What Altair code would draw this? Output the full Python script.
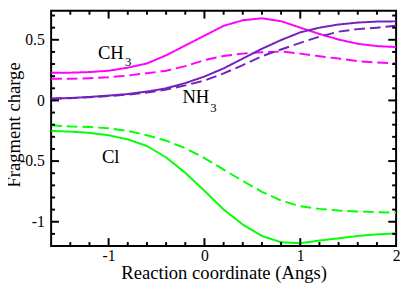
import altair as alt
import pandas as pd

# ---- data ----
xs = [-1.6, -1.4, -1.2, -1.0, -0.8, -0.6, -0.4, -0.2, 0.0, 0.2, 0.4,
      0.6, 0.8, 1.0, 1.2, 1.4, 1.6, 1.8, 2.0]

ch3_solid = [0.229, 0.229, 0.234, 0.245, 0.270, 0.305, 0.372, 0.453, 0.534, 0.615,
             0.661, 0.677, 0.653, 0.600, 0.548, 0.502, 0.467, 0.448, 0.440]
ch3_dashed = [0.178, 0.178, 0.183, 0.191, 0.205, 0.224, 0.245, 0.283, 0.332, 0.367,
              0.386, 0.398, 0.403, 0.386, 0.364, 0.345, 0.324, 0.313, 0.305]
nh3_solid = [0.016, 0.020, 0.029, 0.040, 0.053, 0.073, 0.100, 0.143, 0.197, 0.264,
             0.345, 0.426, 0.498, 0.561, 0.600, 0.626, 0.642, 0.650, 0.652]
nh3_dashed = [0.014, 0.018, 0.026, 0.036, 0.048, 0.066, 0.089, 0.124, 0.164, 0.223,
              0.291, 0.364, 0.420, 0.475, 0.526, 0.567, 0.588, 0.600, 0.615]
cl_solid = [-0.251, -0.257, -0.267, -0.287, -0.321, -0.376, -0.470, -0.597, -0.745, -0.899,
            -1.023, -1.117, -1.169, -1.177, -1.155, -1.137, -1.117, -1.104, -1.096]
cl_dashed = [-0.205, -0.214, -0.219, -0.230, -0.251, -0.287, -0.332, -0.394, -0.475, -0.570,
             -0.664, -0.753, -0.826, -0.872, -0.894, -0.907, -0.915, -0.921, -0.926]

series_names = ["CH3", "NH3", "Cl"]
series_colors = ["#ff00ff", "#7221bc", "#00ff00"]

x_major = [-1, 0, 1]
x_minor = [-1.4, -1.2, -0.8, -0.6, -0.4, -0.2, 0.2, 0.4, 0.6, 0.8, 1.2, 1.4, 1.6, 1.8]
y_major = [-1.0, -0.5, 0.0, 0.5]
y_minor = [-1.1, -0.9, -0.8, -0.7, -0.6, -0.4, -0.3, -0.2, -0.1,
           0.1, 0.2, 0.3, 0.4, 0.6, 0.7]
x_labels = [-1, 0, 1, 2]

ann_main_text = ["CH", "NH", "Cl"]
ann_main_x = [-1.112, -0.23, -1.07]
ann_main_y = [0.345, -0.02, -0.516]
ann_sub_text = ["3", "3"]
ann_sub_x = [-0.83, 0.06]
ann_sub_y = [0.287, -0.092]

# ---- build tables ----
rows = []
for name, sol, das in [("CH3", ch3_solid, ch3_dashed),
                       ("NH3", nh3_solid, nh3_dashed),
                       ("Cl", cl_solid, cl_dashed)]:
    for xv, yv in zip(xs, sol):
        rows.append({"x": xv, "y": yv, "series": name, "style": "solid", "key": name + "s"})
    for xv, yv in zip(xs, das):
        rows.append({"x": xv, "y": yv, "series": name, "style": "dashed", "key": name + "d"})
df = pd.DataFrame(rows)

W, H = 352, 240
FONT = "Liberation Serif"

xscale = alt.Scale(domain=[-1.6, 2.0], nice=False, zero=False)
yscale = alt.Scale(domain=[-1.2, 0.739], nice=False, zero=False)

LBL = "replace(format(datum.value, ''), '\u2212', '-')"

xaxis = alt.Axis(values=x_labels, labelExpr=LBL, labelPadding=2,
                 title="Reaction coordinate (Angs)",
                 titleX=W / 2, titleY=33, titleBaseline="alphabetic", titleAlign="center")
yaxis = alt.Axis(values=y_major, labelExpr=LBL, labelPadding=7,
                 title="Fragment charge",
                 titleX=-32, titleY=116, titleBaseline="alphabetic", titleAlign="center",
                 titleAngle=270)


def X(field="x"):
    return alt.X(f"{field}:Q", scale=xscale, axis=xaxis)


def Y(field="y"):
    return alt.Y(f"{field}:Q", scale=yscale, axis=yaxis)


lines = alt.Chart(df).mark_line(strokeWidth=2, clip=True).encode(
    x=X(), y=Y(),
    color=alt.Color("series:N", scale=alt.Scale(domain=series_names, range=series_colors), legend=None),
    strokeDash=alt.StrokeDash("style:N", scale=alt.Scale(domain=["solid", "dashed"],
                                                          range=[[1, 0], [11, 5]]), legend=None),
    detail="key:N",
)

xt = pd.DataFrame({"x": x_major + x_minor,
                   "len": [8] * len(x_major) + [4] * len(x_minor)})
yt = pd.DataFrame({"y": y_major + y_minor,
                   "len": [8] * len(y_major) + [4] * len(y_minor)})

tick_layers = []
for L in (8, 4):
    xd = xt[xt["len"] == L]
    yd = yt[yt["len"] == L]
    tick_layers.append(alt.Chart(xd).mark_rule(color="black", strokeWidth=2).encode(
        x=X(), y=alt.value(H), y2=alt.value(H - L)))
    tick_layers.append(alt.Chart(xd).mark_rule(color="black", strokeWidth=2).encode(
        x=X(), y=alt.value(0), y2=alt.value(L)))
    tick_layers.append(alt.Chart(yd).mark_rule(color="black", strokeWidth=2).encode(
        y=Y(), x=alt.value(0), x2=alt.value(L)))
    tick_layers.append(alt.Chart(yd).mark_rule(color="black", strokeWidth=2).encode(
        y=Y(), x=alt.value(W), x2=alt.value(W - L)))

ann_main = alt.Chart(pd.DataFrame({"x": ann_main_x, "y": ann_main_y, "t": ann_main_text})).mark_text(
    font=FONT, fontSize=19, align="left", baseline="alphabetic", color="black").encode(
    x=X(), y=Y(), text="t:N")
ann_sub = alt.Chart(pd.DataFrame({"x": ann_sub_x, "y": ann_sub_y, "t": ann_sub_text})).mark_text(
    font=FONT, fontSize=13, align="left", baseline="alphabetic", color="black").encode(
    x=X(), y=Y(), text="t:N")

chart = alt.layer(lines, *tick_layers, ann_main, ann_sub).properties(
    width=W, height=H,
    background="white",
    autosize=alt.AutoSizeParams(type="none"),
    padding={"left": 44, "top": 0, "right": 5, "bottom": 40},
).configure_view(
    stroke="black", strokeWidth=2
).configure_axis(
    ticks=False, domain=False, grid=False, labelFlush=False,
    labelFont=FONT, labelFontSize=16, labelColor="black",
    titleFont=FONT, titleFontSize=19, titleFontWeight="normal", titleColor="black",
)

chart.save("out.html", embed_options={"renderer": "svg", "actions": False})
